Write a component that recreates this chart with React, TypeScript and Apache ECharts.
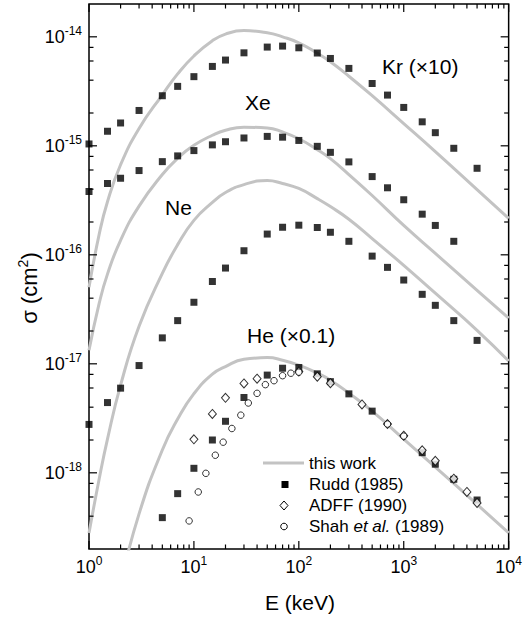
import React, { useEffect, useRef } from 'react';
import * as echarts from 'echarts';

const FONT = '"Liberation Sans", Arial, Helvetica, sans-serif';

// ---- axis ranges / ticks ----
const X_MIN = 1;
const X_MAX = 1e4;
const Y_MIN = 2e-19;
const Y_MAX = 2e-14;
const X_MAJOR = [1, 10, 100, 1000, 10000];
const X_DECADES = [1, 10, 100, 1000];
const X_MINOR_MULT = [2, 3, 4, 5, 6, 7, 8, 9];
const Y_MAJOR = [1e-18, 1e-17, 1e-16, 1e-15, 1e-14];
const Y_DECADES = [1e-19, 1e-18, 1e-17, 1e-16, 1e-15, 1e-14];
const Y_MINOR_MULT = [2, 4, 6, 8];

// ---- theory curves ("this work") ----
const E_CURVE = [1, 1.25, 1.5, 2, 3, 5, 7, 10, 15, 20, 30, 50, 70, 100, 150, 200, 300, 500, 1000, 2000, 5000, 10000];
const KR_CURVE = [5.03e-17, 1.54e-16, 3.07e-16, 6.7e-16, 1.44e-15, 2.94e-15, 4.57e-15, 6.67e-15, 9.21e-15, 1.06e-14, 1.14e-14, 1.09e-14, 1.0e-14, 8.81e-15, 7.06e-15, 5.9e-15, 4.35e-15, 2.88e-15, 1.6e-15, 8.85e-16, 3.97e-16, 2.16e-16];
const XE_CURVE = [1.33e-17, 3.58e-17, 6.65e-17, 1.36e-16, 2.8e-16, 5.45e-16, 7.69e-16, 1.01e-15, 1.25e-15, 1.39e-15, 1.48e-15, 1.46e-15, 1.34e-15, 1.16e-15, 9.23e-16, 7.63e-16, 5.45e-16, 3.5e-16, 1.86e-16, 1.03e-16, 4.72e-17, 2.62e-17];
const NE_CURVE = [2.81e-19, 8.77e-19, 2.04e-18, 6.37e-18, 2.21e-17, 6.76e-17, 1.24e-16, 2.07e-16, 3.02e-16, 3.73e-16, 4.41e-16, 4.8e-16, 4.51e-16, 4.06e-16, 3.28e-16, 2.77e-16, 2.12e-16, 1.41e-16, 8.0e-17, 4.44e-17, 2.03e-17, 1.06e-17];
const HE_CURVE = [null, null, null, 9.6e-20, 4.2e-19, 1.62e-18, 3.11e-18, 5.32e-18, 8.04e-18, 9.44e-18, 1.1e-17, 1.14e-17, 1.08e-17, 9.71e-18, 8.2e-18, 7.08e-18, 5.38e-18, 3.68e-18, 2.04e-18, 1.13e-18, 5.13e-19, 2.81e-19];

// ---- Rudd (1985) ----
const E_RUDD = [1, 1.5, 2, 3, 5, 7, 10, 15, 20, 30, 50, 70, 100, 150, 200, 300, 500, 700, 1000, 1500, 2000, 3000, 5000];
const KR_RUDD = [1.04e-15, 1.36e-15, 1.62e-15, 2.11e-15, 2.88e-15, 3.51e-15, 4.31e-15, 5.35e-15, 6.12e-15, 7.13e-15, 8.05e-15, 8.22e-15, 7.93e-15, 7.1e-15, 6.33e-15, 5.13e-15, 3.73e-15, 2.92e-15, 2.25e-15, 1.66e-15, 1.32e-15, 9.49e-16, 6.22e-16];
const XE_RUDD = [3.81e-16, 4.51e-16, 5.04e-16, 5.93e-16, 7.16e-16, 8.08e-16, 9.04e-16, 1.02e-15, 1.09e-15, 1.18e-15, 1.22e-15, 1.2e-15, 1.12e-15, 9.89e-16, 8.71e-16, 7.12e-16, 5.22e-16, 4.12e-16, 3.2e-16, 2.36e-16, 1.86e-16, 1.33e-16, null];
const NE_RUDD = [2.78e-18, 4.41e-18, 5.98e-18, 9.64e-18, 1.73e-17, 2.49e-17, 3.67e-17, 5.69e-17, 7.56e-17, 1.09e-16, 1.55e-16, 1.79e-16, 1.87e-16, 1.78e-16, 1.61e-16, 1.33e-16, 9.73e-17, 7.67e-17, 5.87e-17, 4.34e-17, 3.44e-17, 2.49e-17, 1.64e-17];
const HE_RUDD = [null, null, null, null, 3.88e-19, 6.44e-19, 1.1e-18, 2.0e-18, 2.97e-18, 4.91e-18, 7.88e-18, 9.11e-18, 9.25e-18, 8.09e-18, 6.86e-18, 5.3e-18, 3.68e-18, null, null, 1.53e-18, 1.2e-18, 8.72e-19, 5.63e-19];

// ---- ADFF (1990), He ----
const E_ADFF = [10, 15, 20, 30, 40, 100, 150, 200, 400, 700, 1000, 1500, 2000, 3000, 4000, 5000];
const HE_ADFF = [2.03e-18, 3.47e-18, 4.87e-18, 6.61e-18, 7.31e-18, 8.5e-18, 7.62e-18, 6.64e-18, 4.24e-18, 2.8e-18, 2.19e-18, 1.61e-18, 1.29e-18, 8.83e-19, 6.67e-19, 5.29e-19];

// ---- Shah et al. (1989), He ----
const E_SHAH = [9, 11, 13, 16, 19, 23, 28, 33, 40, 48, 58, 70, 84, 100, 700, 1000];
const HE_SHAH = [3.62e-19, 6.67e-19, 9.89e-19, 1.45e-18, 1.91e-18, 2.55e-18, 3.38e-18, 4.37e-18, 5.36e-18, 6.44e-18, 7.0e-18, 7.78e-18, 8.2e-18, 8.38e-18, 2.8e-18, 2.17e-18];

const LEGEND_NAMES = ['this work', 'Rudd (1985)', 'ADFF (1990)', 'Shah {i|et al.} (1989)'];

function pairs(xs: number[], ys: (number | null)[]) {
  const out: number[][] = [];
  xs.forEach((x, i) => {
    const y = ys[i];
    if (y != null) out.push([x, y]);
  });
  return out;
}

const CURVE_COLOR = '#c3c3c3';

function curve(name: string, ys: (number | null)[]) {
  return {
    type: 'line',
    name,
    data: pairs(E_CURVE, ys),
    showSymbol: false,
    smooth: 0.5,
    clip: true,
    lineStyle: { color: CURVE_COLOR, width: 3 },
    z: 2,
    silent: true,
  };
}

function rudd(name: string, ys: (number | null)[]) {
  return {
    type: 'scatter',
    name,
    data: pairs(E_RUDD, ys),
    symbol: 'rect',
    symbolSize: 7,
    itemStyle: { color: '#000' },
    z: 3,
    silent: true,
  };
}

function tickSeries(values: number[], axis: 'x' | 'y', len: number) {
  return {
    type: 'custom',
    coordinateSystem: 'cartesian2d',
    data: values.map((v) => (axis === 'x' ? [v, 1e-16] : [100, v])),
    silent: true,
    z: 6,
    renderItem: (params: any, api: any) => {
      const cs = params.coordSys;
      const p = api.coord([api.value(0), api.value(1)]);
      const st = { stroke: '#000', lineWidth: 1.2 };
      if (axis === 'x') {
        return {
          type: 'group',
          children: [
            { type: 'line', shape: { x1: p[0], y1: cs.y + cs.height, x2: p[0], y2: cs.y + cs.height - len }, style: st },
            { type: 'line', shape: { x1: p[0], y1: cs.y, x2: p[0], y2: cs.y + len }, style: st },
          ],
        };
      }
      return {
        type: 'group',
        children: [
          { type: 'line', shape: { x1: cs.x, y1: p[1], x2: cs.x + len, y2: p[1] }, style: st },
          { type: 'line', shape: { x1: cs.x + cs.width, y1: p[1], x2: cs.x + cs.width - len, y2: p[1] }, style: st },
        ],
      };
    },
  };
}

const powLabel = (v: number) => {
  const l = Math.log10(v);
  const r = Math.round(l);
  if (Math.abs(l - r) > 1e-6) return '';
  return `{b|10}{s|${r}}`;
};

const labelRich = {
  b: { fontSize: 18, fontFamily: FONT, color: '#000', verticalAlign: 'bottom', lineHeight: 18 },
  s: { fontSize: 12, fontFamily: FONT, color: '#000', verticalAlign: 'bottom', lineHeight: 12, padding: [0, 0, 9, 0] },
};

export default function App() {
  const ref = useRef<HTMLDivElement>(null);

  useEffect(() => {
    if (!ref.current) return;
    const chart = echarts.init(ref.current, null, { renderer: 'svg' });

    const xMinor: number[] = [];
    X_DECADES.forEach((d) => X_MINOR_MULT.forEach((m) => xMinor.push(m * d)));
    const yMinor: number[] = [];
    Y_DECADES.forEach((d) =>
      Y_MINOR_MULT.forEach((m) => {
        const v = m * d;
        if (v > Y_MIN * 1.01 && v < Y_MAX * 0.99) yMinor.push(v);
      })
    );

    const legendX = 263;
    const legendTextX = 309;
    const legendMarkX = 285;
    const legendY = [463, 484.5, 505.5, 526.5];
    const legendFont = { fontSize: 17, fontFamily: FONT, fill: '#000' };

    const option: any = {
      animation: false,
      backgroundColor: '#fff',
      grid: {
        left: 89,
        right: 13,
        top: 4,
        bottom: 70,
        show: true,
        borderColor: '#000',
        borderWidth: 1.5,
        backgroundColor: 'transparent',
      },
      xAxis: {
        type: 'log',
        logBase: 10,
        min: X_MIN,
        max: X_MAX,
        axisLine: { show: false },
        axisTick: { show: false },
        splitLine: { show: false },
        axisLabel: { formatter: powLabel, rich: labelRich, margin: 9, showMinLabel: true, showMaxLabel: true },
      },
      yAxis: {
        type: 'log',
        logBase: 10,
        min: Y_MIN,
        max: Y_MAX,
        axisLine: { show: false },
        axisTick: { show: false },
        splitLine: { show: false },
        axisLabel: { formatter: powLabel, rich: labelRich, margin: 7 },
      },
      series: [
        curve('Kr', KR_CURVE),
        curve('Xe', XE_CURVE),
        curve('Ne', NE_CURVE),
        curve('He', HE_CURVE),
        rudd('Kr Rudd', KR_RUDD),
        rudd('Xe Rudd', XE_RUDD),
        rudd('Ne Rudd', NE_RUDD),
        rudd('He Rudd', HE_RUDD),
        {
          type: 'scatter',
          name: 'ADFF',
          data: pairs(E_ADFF, HE_ADFF),
          symbol: 'diamond',
          symbolSize: [8, 9],
          itemStyle: { color: '#fff', borderColor: '#000', borderWidth: 1 },
          z: 4,
          silent: true,
        },
        {
          type: 'scatter',
          name: 'Shah',
          data: pairs(E_SHAH, HE_SHAH),
          symbol: 'circle',
          symbolSize: 6.5,
          itemStyle: { color: '#fff', borderColor: '#000', borderWidth: 1 },
          z: 4,
          silent: true,
        },
        tickSeries(X_MAJOR, 'x', 8),
        tickSeries(xMinor, 'x', 4.5),
        tickSeries(Y_MAJOR, 'y', 8),
        tickSeries(yMinor, 'y', 4.5),
      ],
      graphic: [
        // curve annotations
        { type: 'text', x: 382, y: 66, style: { text: 'Kr (×10)', fontSize: 21, fontFamily: FONT, fill: '#000', align: 'left', verticalAlign: 'middle' } },
        { type: 'text', x: 245, y: 102, style: { text: 'Xe', fontSize: 21, fontFamily: FONT, fill: '#000', align: 'left', verticalAlign: 'middle' } },
        { type: 'text', x: 165, y: 207, style: { text: 'Ne', fontSize: 21, fontFamily: FONT, fill: '#000', align: 'left', verticalAlign: 'middle' } },
        { type: 'text', x: 247, y: 335, style: { text: 'He (×0.1)', fontSize: 21, fontFamily: FONT, fill: '#000', align: 'left', verticalAlign: 'middle' } },
        // axis titles
        {
          type: 'text',
          x: 29,
          y: 288,
          rotation: Math.PI / 2,
          style: {
            text: '{a|σ (cm}{b|2}{a|)}',
            align: 'center',
            verticalAlign: 'middle',
            rich: {
              a: { fontSize: 22, fontFamily: FONT, fill: '#000', verticalAlign: 'bottom', lineHeight: 22 },
              b: { fontSize: 14, fontFamily: FONT, fill: '#000', verticalAlign: 'bottom', lineHeight: 14, padding: [0, 0, 10, 0] },
            },
          },
        },
        { type: 'text', x: 300, y: 602, style: { text: 'E (keV)', fontSize: 21, fontFamily: FONT, fill: '#000', align: 'center', verticalAlign: 'middle' } },
        // legend
        { type: 'line', shape: { x1: legendX, y1: legendY[0], x2: legendX + 41, y2: legendY[0] }, style: { stroke: CURVE_COLOR, lineWidth: 3 } },
        { type: 'rect', shape: { x: legendMarkX - 3.5, y: legendY[1] - 3.5, width: 7, height: 7 }, style: { fill: '#000' } },
        {
          type: 'polygon',
          shape: { points: [[legendMarkX - 1, legendY[2] - 4.5], [legendMarkX + 3, legendY[2]], [legendMarkX - 1, legendY[2] + 4.5], [legendMarkX - 5, legendY[2]]] },
          style: { fill: '#fff', stroke: '#000', lineWidth: 1 },
        },
        { type: 'circle', shape: { cx: legendMarkX - 1, cy: legendY[3], r: 3.3 }, style: { fill: '#fff', stroke: '#000', lineWidth: 1 } },
        ...LEGEND_NAMES.map((t, i) => ({
          type: 'text',
          x: legendTextX,
          y: legendY[i],
          style: {
            text: t,
            ...legendFont,
            align: 'left',
            verticalAlign: 'middle',
            rich: { i: { fontSize: 17, fontFamily: FONT, fontStyle: 'italic', fill: '#000' } },
          },
        })),
      ],
    };

    chart.setOption(option);
    return () => chart.dispose();
  }, []);

  return (
    <div
      ref={ref}
      style={{ position: 'fixed', left: 0, top: 0, width: 525, height: 619, background: '#fff' }}
    />
  );
}
